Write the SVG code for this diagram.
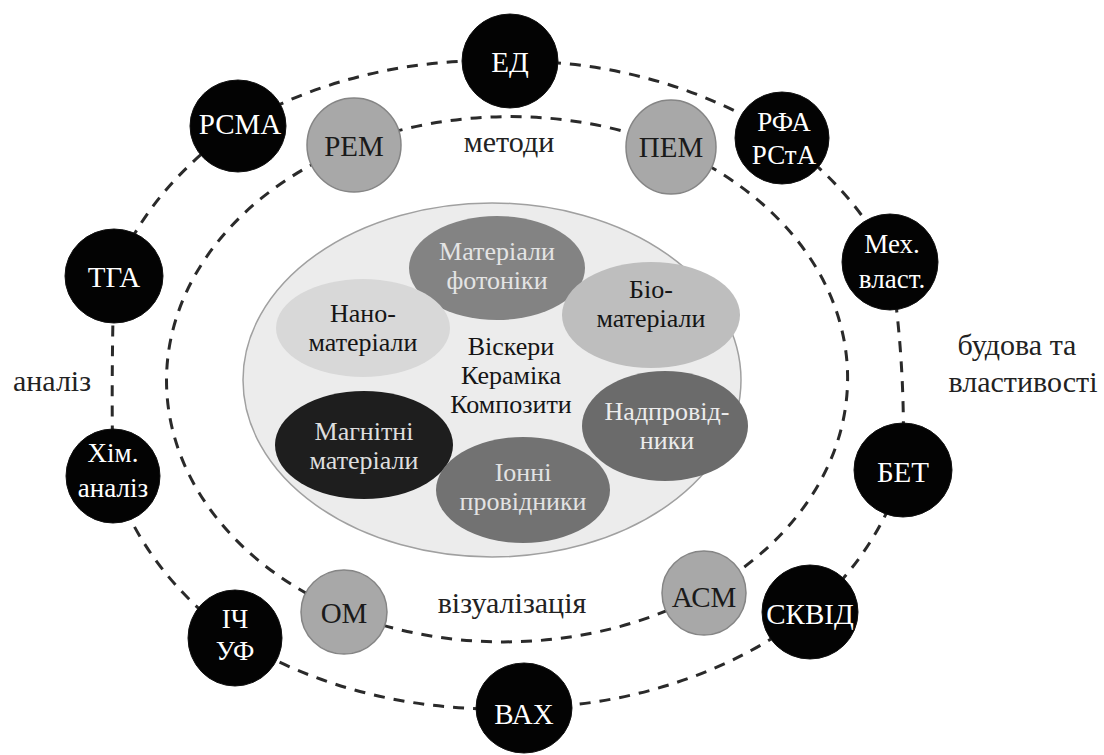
<svg xmlns="http://www.w3.org/2000/svg" width="1104" height="755" viewBox="0 0 1104 755">
<style>
.bk{fill:#030303;stroke:#111;stroke-width:1}
.gr{fill:#a8a8a8;stroke:#858585;stroke-width:1.5}
.conn path{fill:none;stroke:#2a2a2a;stroke-width:3;stroke-dasharray:11 9}
text{font-family:'Liberation Serif','Liberation Sans',serif;text-anchor:middle}
.wt{fill:#fff;font-size:29px}
.w2{fill:#fff;font-size:27px}
.dt{fill:#1a1a1a;font-size:29px}
.lbl{fill:#222;font-size:30px}
.it{font-size:26px}
</style>
<rect width="1104" height="755" fill="#fff"/>
<g id="connectors" class="conn">
<path d="M510,61 A415,323 0 0 1 782,138"/>
<path d="M782,138 A415,323 0 0 1 890,262"/>
<path d="M890,262 Q906,360 903,470"/>
<path d="M903,470 A415,323 0 0 1 810,612"/>
<path d="M810,612 A415,323 0 0 1 524,708"/>
<path d="M524,708 A415,323 0 0 1 235,638"/>
<path d="M235,638 A415,323 0 0 1 113,476"/>
<path d="M113,476 Q111,380 114,276"/>
<path d="M114,276 A415,323 0 0 1 238,126"/>
<path d="M238,126 A415,323 0 0 1 510,61"/>
<path d="M354,145 A346,265 0 0 1 671,147"/>
<path d="M671,147 A346,265 0 0 1 704,593"/>
<path d="M704,593 A346,265 0 0 1 344,612"/>
<path d="M344,612 A346,265 0 0 1 354,145"/>
</g>
<g id="center">
<ellipse cx="492" cy="380" rx="249" ry="177" fill="#ececec" stroke="#a0a0a0" stroke-width="1.5"/>
<g id="foto"><ellipse cx="497" cy="268" rx="88" ry="52" fill="#838383"/>
<text class="it" fill="#e4e4e4"><tspan x="497" y="260">Матеріали</tspan><tspan x="497" y="289">фотоніки</tspan></text></g>
<g id="bio"><ellipse cx="651" cy="315" rx="89" ry="53" fill="#bebebe"/>
<text class="it" fill="#151515"><tspan x="651" y="298">Біо-</tspan><tspan x="651" y="327">матеріали</tspan></text></g>
<g id="nano"><ellipse cx="363" cy="328" rx="87" ry="49" fill="#d8d8d8"/>
<text class="it" fill="#151515"><tspan x="363" y="322">Нано-</tspan><tspan x="363" y="351">матеріали</tspan></text></g>
<g id="nadpr"><ellipse cx="665" cy="426" rx="83" ry="55" fill="#6b6b6b"/>
<text class="it" fill="#ececec"><tspan x="667" y="420">Надпровід-</tspan><tspan x="667" y="449">ники</tspan></text></g>
<g id="magn"><ellipse cx="364" cy="445" rx="89" ry="54" fill="#1e1e1e"/>
<text class="it" fill="#dedede"><tspan x="364" y="440">Магнітні</tspan><tspan x="364" y="469">матеріали</tspan></text></g>
<g id="ion"><ellipse cx="523" cy="490" rx="87" ry="53" fill="#727272"/>
<text class="it" fill="#e2e2e2"><tspan x="523" y="481">Іонні</tspan><tspan x="523" y="510">провідники</tspan></text></g>
<g id="mid"><text class="it" fill="#151515"><tspan x="511" y="355">Віскери</tspan><tspan x="511" y="384">Кераміка</tspan><tspan x="511" y="413">Композити</tspan></text></g>
</g>
<g id="ED"><ellipse class="bk" cx="510" cy="61" rx="48" ry="47"/><text class="wt" x="510" y="72">ЕД</text></g>
<g id="RSMA"><ellipse class="bk" cx="238" cy="126" rx="48" ry="46"/><text class="wt" x="240" y="134">РСМА</text></g>
<g id="REM"><ellipse class="gr" cx="354" cy="145" rx="47" ry="47"/><text class="dt" x="354" y="156">РЕМ</text></g>
<g id="PEM"><ellipse class="gr" cx="671" cy="147" rx="45" ry="47"/><text class="dt" x="671" y="157">ПЕМ</text></g>
<g id="RFA"><ellipse class="bk" cx="782" cy="138" rx="47" ry="46"/><text class="w2"><tspan x="784" y="131">РФА</tspan><tspan x="784" y="164">РСтА</tspan></text></g>
<g id="MEH"><ellipse class="bk" cx="890" cy="262" rx="48" ry="48"/><text class="w2"><tspan x="892" y="253">Мех.</tspan><tspan x="892" y="288">власт.</tspan></text></g>
<g id="TGA"><ellipse class="bk" cx="114" cy="276" rx="49" ry="47"/><text class="wt" x="114" y="287">ТГА</text></g>
<g id="HIM"><ellipse class="bk" cx="113" cy="476" rx="47" ry="47"/><text class="w2"><tspan x="113" y="462">Хім.</tspan><tspan x="113" y="497">аналіз</tspan></text></g>
<g id="BET"><ellipse class="bk" cx="903" cy="470" rx="49" ry="47"/><text class="wt" x="903" y="482">БЕТ</text></g>
<g id="ICH"><ellipse class="bk" cx="235" cy="638" rx="47" ry="48"/><text class="w2"><tspan x="235" y="628">ІЧ</tspan><tspan x="235" y="660">УФ</tspan></text></g>
<g id="OM"><ellipse class="gr" cx="344" cy="612" rx="43" ry="42"/><text class="dt" x="344" y="623">ОМ</text></g>
<g id="ASM"><ellipse class="gr" cx="704" cy="593" rx="42" ry="42"/><text class="dt" x="704" y="607">АСМ</text></g>
<g id="SKVID"><ellipse class="bk" cx="810" cy="612" rx="48" ry="47"/><text class="wt" x="810" y="624">СКВІД</text></g>
<g id="VAH"><ellipse class="bk" cx="524" cy="708" rx="48" ry="45"/><text class="wt" x="524" y="724">ВАХ</text></g>
<g id="labels">
<text class="lbl" x="509" y="152">методи</text>
<text class="lbl" x="52" y="391">аналіз</text>
<text class="lbl"><tspan x="1017" y="355">будова та</tspan><tspan x="1023" y="392">властивості</tspan></text>
<text class="lbl" x="512" y="613">візуалізація</text>
</g>
</svg>
